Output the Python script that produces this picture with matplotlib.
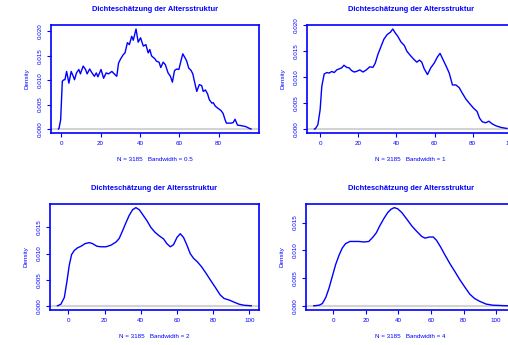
import matplotlib
matplotlib.use('Agg')
import matplotlib.pyplot as plt
import numpy as np

plt.rcParams['font.family'] = ['Liberation Sans', 'DejaVu Sans']

title = 'Dichteschätzung der Altersstruktur'
n_obs = 3185
bandwidths = [0.5, 1, 2, 4]

# density curves (age, density)
age_bw05 = [-1.5, -1.2, -0.35, 0.49, 1.33, 1.83, 2.67, 3.85, 5.0, 6.05, 6.7, 7.7, 8.9, 9.7,
            11.1, 12.3, 13.1, 14.4, 15.6, 16.8, 17.8, 18.6, 20.2, 21.5, 22.8, 24.0, 25.7,
            27.4, 28.2, 29.1, 30.2, 31.6, 32.4, 33.6, 34.6, 35.8, 36.6, 38.0, 39.1, 40.3,
            41.7, 43.0, 44.2, 45.0, 45.9, 46.4, 47.6, 48.4, 49.7, 50.6, 51.8, 52.9, 54.3,
            55.5, 56.5, 57.6, 58.8, 59.8, 61.0, 61.8, 63.2, 63.8, 64.8, 66.0, 66.9, 67.7,
            68.9, 70.2, 71.4, 72.2, 73.3, 74.4, 75.3, 76.6, 77.3, 78.3, 79.5, 81.2, 82.3,
            83.3, 84.0, 86.2, 87.4, 88.4, 89.6, 91.3, 93.8, 95.8, 96.5]
dens_bw05 = [0.0, 0.0001, 0.0019, 0.0098, 0.0101, 0.0101, 0.0118, 0.0094, 0.0118, 0.0108,
             0.0101, 0.0115, 0.0122, 0.0113, 0.0129, 0.0122, 0.0113, 0.0123, 0.0115, 0.0108,
             0.0115, 0.0107, 0.0122, 0.0104, 0.0115, 0.0113, 0.0118, 0.0111, 0.0108, 0.0135,
             0.0144, 0.0153, 0.0156, 0.0177, 0.0173, 0.0190, 0.0182, 0.0205, 0.0178, 0.0187,
             0.0170, 0.0173, 0.0156, 0.0163, 0.0150, 0.0148, 0.0144, 0.0139, 0.0137, 0.0126,
             0.0137, 0.0132, 0.0115, 0.0108, 0.0096, 0.0120, 0.0123, 0.0122, 0.0142, 0.0154,
             0.0144, 0.0139, 0.0125, 0.0120, 0.0113, 0.0098, 0.0077, 0.0091, 0.0089, 0.0077,
             0.0080, 0.0072, 0.0060, 0.0053, 0.0054, 0.0047, 0.0043, 0.0038, 0.0032, 0.0019,
             0.0012, 0.0012, 0.0013, 0.0020, 0.0008, 0.0007, 0.0005, 0.0001, 0.0]

age_bw1 = [-3.0, -2.6, -1.2, 0.0, 0.87, 2.1, 3.5, 4.7, 6.1, 7.4, 8.7, 10.0, 11.3, 12.5, 13.9,
           15.2, 16.4, 17.8, 19.0, 20.8, 22.5, 24.2, 26.0, 27.7, 28.9, 30.3, 31.7, 33.4,
           35.1, 36.9, 38.1, 39.3, 40.7, 42.4, 44.2, 45.5, 47.3, 49.0, 50.7, 52.1, 53.3,
           54.6, 56.3, 58.0, 59.8, 61.5, 62.9, 64.3, 66.0, 67.7, 69.4, 71.2, 72.9, 74.6,
           76.4, 78.4, 80.5, 82.3, 83.6, 85.0, 86.8, 88.5, 90.2, 92.3, 94.9, 98.0]
dens_bw1 = [0.0, 0.0, 0.0008, 0.0037, 0.0082, 0.0106, 0.0109, 0.0108, 0.0111, 0.0109, 0.0114,
            0.0116, 0.0118, 0.0123, 0.0119, 0.0118, 0.0113, 0.0110, 0.0111, 0.0114, 0.0110,
            0.0114, 0.0120, 0.0119, 0.0127, 0.0144, 0.0157, 0.0173, 0.0182, 0.0187, 0.0193,
            0.0186, 0.0179, 0.0168, 0.0161, 0.0150, 0.0142, 0.0135, 0.0129, 0.0133, 0.0129,
            0.0116, 0.0105, 0.0118, 0.0127, 0.0139, 0.0146, 0.0135, 0.0122, 0.0108, 0.0085,
            0.0085, 0.0080, 0.0069, 0.0058, 0.0049, 0.0040, 0.0034, 0.0021, 0.0014, 0.0012,
            0.0015, 0.0010, 0.0006, 0.0003, 0.0001]

age_bw2 = [-6.0, -5.9, -4.1, -2.2, -0.75, 0.54, 1.8, 3.3, 5.1, 7.0, 9.2, 11.6, 13.4, 15.8,
           18.0, 20.8, 23.5, 26.3, 28.1, 30.0, 31.8, 33.6, 35.5, 37.3, 39.2, 41.0, 43.4,
           45.6, 47.8, 50.2, 52.6, 54.4, 56.3, 58.1, 60.0, 61.8, 63.6, 65.5, 67.3, 69.1,
           71.3, 73.5, 75.9, 78.7, 81.4, 83.8, 86.0, 88.8, 91.5, 94.3, 97.0, 101.0]
dens_bw2 = [0.0, 0.0, 0.0003, 0.0016, 0.0047, 0.0078, 0.0098, 0.0106, 0.0111, 0.0114, 0.0119,
            0.0121, 0.0119, 0.0114, 0.0113, 0.0113, 0.0116, 0.0122, 0.0129, 0.0144, 0.0159,
            0.0173, 0.0184, 0.0188, 0.0184, 0.0175, 0.0163, 0.0150, 0.0141, 0.0134, 0.0128,
            0.0119, 0.0113, 0.0117, 0.0131, 0.0138, 0.0131, 0.0116, 0.0100, 0.0091, 0.0084,
            0.0075, 0.0063, 0.0048, 0.0034, 0.0021, 0.0014, 0.0011, 0.0007, 0.0003, 0.0001,
            0.0]

age_bw4 = [-12.0, -11.8, -8.7, -6.7, -4.6, -2.6, -0.6, 1.4, 3.5, 5.5, 7.5, 10.2, 12.6, 15.7,
           18.7, 21.8, 24.4, 26.5, 28.5, 31.0, 33.4, 35.4, 37.4, 39.5, 42.1, 45.2, 48.2,
           51.3, 54.3, 56.3, 59.0, 61.4, 63.4, 65.9, 68.5, 71.6, 74.6, 77.7, 80.7, 83.8,
           86.8, 89.9, 93.9, 98.0, 107.0]
dens_bw4 = [0.0, 0.0, 0.0001, 0.0004, 0.0015, 0.0032, 0.0053, 0.0074, 0.0091, 0.0104, 0.0112,
            0.0116, 0.0116, 0.0116, 0.0115, 0.0116, 0.0124, 0.0132, 0.0144, 0.0157, 0.0168,
            0.0174, 0.0177, 0.0175, 0.0168, 0.0156, 0.0144, 0.0134, 0.0125, 0.0122, 0.0124,
            0.0124, 0.0118, 0.0106, 0.0092, 0.0076, 0.0062, 0.0047, 0.0034, 0.0021, 0.0013,
            0.0008, 0.0003, 0.0001, 0.0]

ages = [age_bw05, age_bw1, age_bw2, age_bw4]
dens = [dens_bw05, dens_bw1, dens_bw2, dens_bw4]
xtick_list = [[0, 20, 40, 60, 80], [0, 20, 40, 60, 80, 100],
              [0, 20, 40, 60, 80, 100], [0, 20, 40, 60, 80, 100]]
ytick_list = [[0, 0.005, 0.010, 0.015, 0.020], [0, 0.005, 0.010, 0.015, 0.020],
              [0, 0.005, 0.010, 0.015], [0, 0.005, 0.010, 0.015]]

W, H = 508, 345
# panel boxes in pixels: left, top, right, bottom
boxes = [(50.7, 25, 258.7, 133), (306.7, 25, 514.7, 133),
         (49.7, 203.7, 259, 309.7), (306, 203.7, 515.3, 309.7)]

blue = '#0000ff'
fig = plt.figure(figsize=(W / 100, H / 100), dpi=100)

for i in range(4):
    l, t, r, b = boxes[i]
    ax = fig.add_axes([l / W, 1 - b / H, (r - l) / W, (b - t) / H])
    x = np.array(ages[i])
    y = np.array(dens[i])
    ax.axhline(0, color='#d3d3d3', lw=1.5, zorder=1)
    ax.plot(x, y, color=blue, lw=1.0, zorder=2)
    dx = x.max() - x.min()
    ax.set_xlim(x.min() - 0.04 * dx, x.max() + 0.04 * dx)
    ax.set_ylim(-0.04 * y.max(), 1.04 * y.max())
    ax.set_xticks(xtick_list[i])
    ax.set_yticks(ytick_list[i])
    ax.set_yticklabels(['%.3f' % v for v in ytick_list[i]], rotation=90, va='center')
    for s in ax.spines.values():
        s.set_color(blue)
        s.set_linewidth(1.2)
    ax.tick_params(colors=blue, labelcolor=blue, labelsize=4.5, length=3, width=0.8, pad=3)
    ax.set_title(title, color=blue, fontsize=5.4, fontweight='bold', pad=10)
    ax.set_xlabel('N = %d   Bandwidth = %s' % (n_obs, bandwidths[i]),
                  color=blue, fontsize=4.5, labelpad=8)
    ax.set_ylabel('Density', color=blue, fontsize=4.5, labelpad=6)

fig.savefig('out.png', dpi=100)
